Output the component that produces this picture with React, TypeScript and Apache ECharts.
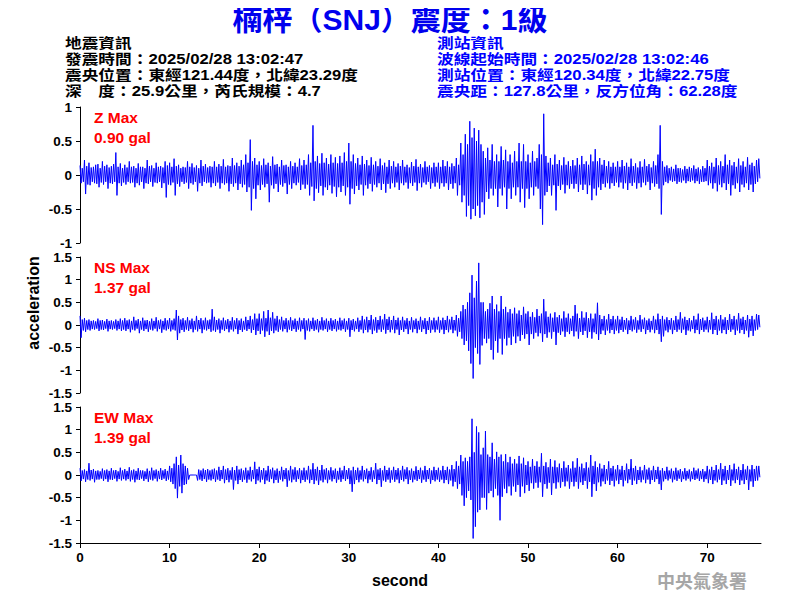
import React, { useEffect, useRef } from "react";
import * as echarts from "echarts";

// ---- Data ----
// Each trace is stored as 0.25 s bins: the bin's peak high value and peak low value (gal)
const STEP = 0.25;

const zHi = [
  0.14, 0.1, 0.22, 0.13, 0.18, 0.11, 0.12, 0.15, 0.16, 0.1, 0.2, 0.13, 0.15, 0.11, 0.13, 0.16, 0.33, 0.12, 0.17, 0.1,
  0.15, 0.11, 0.2, 0.12, 0.13, 0.1, 0.17, 0.12, 0.12, 0.1, 0.22, 0.13, 0.14, 0.1, 0.18, 0.12, 0.13, 0.11, 0.2, 0.14,
  0.18, 0.12, 0.24, 0.13, 0.15, 0.1, 0.12, 0.11, 0.2, 0.12, 0.17, 0.11, 0.14, 0.1, 0.22, 0.13, 0.16, 0.11, 0.13, 0.12,
  0.2, 0.12, 0.16, 0.13, 0.23, 0.12, 0.14, 0.13, 0.25, 0.14, 0.18, 0.13, 0.22, 0.15, 0.3, 0.18, 0.52, 0.2, 0.25, 0.15,
  0.2, 0.14, 0.24, 0.15, 0.18, 0.13, 0.27, 0.15, 0.16, 0.12, 0.22, 0.14, 0.15, 0.12, 0.2, 0.13, 0.18, 0.12, 0.24, 0.14,
  0.22, 0.15, 0.3, 0.18, 0.73, 0.2, 0.28, 0.17, 0.32, 0.18, 0.25, 0.16, 0.3, 0.18, 0.26, 0.17, 0.28, 0.18, 0.33, 0.2,
  0.47, 0.2, 0.3, 0.17, 0.25, 0.15, 0.28, 0.16, 0.22, 0.14, 0.26, 0.15, 0.2, 0.13, 0.24, 0.14, 0.18, 0.12, 0.22, 0.13,
  0.2, 0.12, 0.17, 0.13, 0.22, 0.12, 0.15, 0.11, 0.19, 0.13, 0.23, 0.12, 0.16, 0.11, 0.2, 0.12, 0.14, 0.11, 0.18, 0.12,
  0.18, 0.12, 0.22, 0.13, 0.2, 0.12, 0.17, 0.13, 0.25, 0.15, 0.47, 0.3, 0.6, 0.45, 0.79, 0.55, 0.69, 0.5, 0.66, 0.45,
  0.35, 0.25, 0.4, 0.22, 0.45, 0.2, 0.3, 0.2, 0.42, 0.22, 0.37, 0.2, 0.3, 0.18, 0.35, 0.2, 0.47, 0.2, 0.45, 0.2,
  0.3, 0.18, 0.35, 0.2, 0.25, 0.45, 0.3, 0.9, 0.28, 0.18, 0.25, 0.15, 0.3, 0.16, 0.22, 0.14, 0.26, 0.15, 0.2, 0.13,
  0.22, 0.14, 0.25, 0.15, 0.28, 0.16, 0.2, 0.15, 0.3, 0.2, 0.38, 0.2, 0.25, 0.15, 0.22, 0.13, 0.2, 0.12, 0.18, 0.12,
  0.2, 0.12, 0.22, 0.13, 0.18, 0.12, 0.24, 0.13, 0.17, 0.11, 0.2, 0.12, 0.23, 0.13, 0.16, 0.11, 0.2, 0.14, 0.3, 0.73,
  0.2, 0.12, 0.14, 0.1, 0.12, 0.09, 0.15, 0.1, 0.1, 0.08, 0.13, 0.09, 0.12, 0.1, 0.14, 0.09, 0.11, 0.08, 0.13, 0.1,
  0.22, 0.13, 0.18, 0.12, 0.25, 0.14, 0.2, 0.13, 0.3, 0.15, 0.22, 0.14, 0.19, 0.12, 0.24, 0.14, 0.2, 0.12, 0.26, 0.15, 0.18, 0.13, 0.22, 0.24,
];
const zLo = [
  -0.12, -0.1, -0.28, -0.14, -0.15, -0.1, -0.12, -0.13, -0.18, -0.11, -0.14, -0.1, -0.2, -0.12, -0.13, -0.1, -0.3, -0.12, -0.16, -0.11,
  -0.14, -0.1, -0.12, -0.11, -0.18, -0.12, -0.15, -0.1, -0.2, -0.12, -0.13, -0.1, -0.17, -0.11, -0.12, -0.1, -0.19, -0.12, -0.33, -0.14,
  -0.15, -0.11, -0.3, -0.13, -0.17, -0.1, -0.13, -0.11, -0.2, -0.12, -0.14, -0.1, -0.24, -0.12, -0.16, -0.1, -0.12, -0.11, -0.18, -0.12,
  -0.16, -0.11, -0.2, -0.12, -0.14, -0.12, -0.24, -0.13, -0.17, -0.12, -0.22, -0.13, -0.18, -0.14, -0.25, -0.18, -0.52, -0.2, -0.35, -0.15,
  -0.22, -0.14, -0.18, -0.13, -0.4, -0.15, -0.2, -0.13, -0.25, -0.14, -0.17, -0.12, -0.28, -0.14, -0.2, -0.12, -0.15, -0.11, -0.22, -0.14,
  -0.2, -0.14, -0.3, -0.17, -0.38, -0.2, -0.26, -0.16, -0.3, -0.18, -0.22, -0.15, -0.27, -0.17, -0.32, -0.18, -0.25, -0.16, -0.3, -0.18,
  -0.43, -0.2, -0.28, -0.16, -0.22, -0.14, -0.3, -0.15, -0.2, -0.13, -0.24, -0.14, -0.18, -0.12, -0.22, -0.13, -0.26, -0.13, -0.2, -0.12,
  -0.18, -0.11, -0.22, -0.12, -0.15, -0.11, -0.2, -0.12, -0.16, -0.11, -0.23, -0.12, -0.18, -0.11, -0.14, -0.1, -0.2, -0.12, -0.17, -0.11,
  -0.2, -0.12, -0.17, -0.12, -0.22, -0.13, -0.2, -0.12, -0.3, -0.15, -0.4, -0.3, -0.61, -0.45, -0.65, -0.5, -0.6, -0.45, -0.63, -0.4,
  -0.58, -0.25, -0.35, -0.2, -0.3, -0.2, -0.47, -0.2, -0.3, -0.18, -0.5, -0.2, -0.35, -0.18, -0.3, -0.18, -0.4, -0.2, -0.48, -0.2,
  -0.35, -0.18, -0.3, -0.17, -0.2, -0.5, -0.73, -0.3, -0.25, -0.16, -0.3, -0.15, -0.52, -0.16, -0.22, -0.14, -0.27, -0.15, -0.2, -0.13,
  -0.2, -0.13, -0.25, -0.14, -0.22, -0.14, -0.28, -0.15, -0.37, -0.2, -0.3, -0.18, -0.22, -0.13, -0.18, -0.12, -0.2, -0.12, -0.16, -0.11,
  -0.18, -0.11, -0.2, -0.12, -0.22, -0.12, -0.16, -0.11, -0.2, -0.12, -0.18, -0.11, -0.15, -0.1, -0.22, -0.12, -0.17, -0.13, -0.2, -0.58,
  -0.15, -0.1, -0.12, -0.08, -0.1, -0.09, -0.13, -0.1, -0.11, -0.08, -0.12, -0.09, -0.1, -0.08, -0.12, -0.09, -0.13, -0.1, -0.1, -0.09,
  -0.15, -0.12, -0.2, -0.12, -0.24, -0.14, -0.18, -0.12, -0.22, -0.13, -0.3, -0.15, -0.2, -0.12, -0.25, -0.14, -0.18, -0.12, -0.22, -0.14, -0.25, -0.13, -0.1, -0.05,
];

const nsHi = [
  0.2, 0.12, 0.15, 0.1, 0.12, 0.09, 0.1, 0.08, 0.14, 0.1, 0.11, 0.08, 0.13, 0.09, 0.1, 0.08, 0.12, 0.09, 0.14, 0.1,
  0.15, 0.1, 0.12, 0.09, 0.18, 0.1, 0.13, 0.09, 0.16, 0.1, 0.11, 0.08, 0.14, 0.09, 0.17, 0.1, 0.12, 0.09, 0.15, 0.1,
  0.15, 0.1, 0.14, 0.33, 0.2, 0.12, 0.15, 0.1, 0.17, 0.1, 0.14, 0.09, 0.2, 0.11, 0.15, 0.1, 0.16, 0.1, 0.12, 0.35,
  0.18, 0.11, 0.14, 0.1, 0.16, 0.1, 0.13, 0.09, 0.17, 0.1, 0.15, 0.1, 0.14, 0.09, 0.18, 0.11, 0.2, 0.12, 0.25, 0.14,
  0.25, 0.14, 0.3, 0.15, 0.33, 0.16, 0.28, 0.14, 0.2, 0.12, 0.18, 0.1, 0.15, 0.1, 0.17, 0.1, 0.14, 0.09, 0.16, 0.1,
  0.15, 0.1, 0.14, 0.09, 0.16, 0.1, 0.13, 0.09, 0.17, 0.1, 0.14, 0.09, 0.15, 0.1, 0.13, 0.09, 0.16, 0.1, 0.14, 0.09,
  0.15, 0.1, 0.13, 0.09, 0.16, 0.1, 0.2, 0.12, 0.18, 0.11, 0.22, 0.12, 0.17, 0.11, 0.2, 0.12, 0.24, 0.13, 0.18, 0.11,
  0.2, 0.11, 0.16, 0.1, 0.18, 0.1, 0.15, 0.09, 0.17, 0.1, 0.14, 0.09, 0.18, 0.1, 0.15, 0.09, 0.17, 0.1, 0.16, 0.1,
  0.18, 0.1, 0.16, 0.11, 0.2, 0.12, 0.18, 0.11, 0.22, 0.15, 0.3, 0.44, 0.35, 0.5, 0.71, 1.1, 0.6, 0.97, 1.37, 0.5,
  0.5, 0.3, 0.35, 0.48, 0.64, 0.35, 0.45, 0.3, 0.64, 0.35, 0.4, 0.28, 0.35, 0.25, 0.38, 0.25, 0.32, 0.22, 0.4, 0.25,
  0.3, 0.18, 0.28, 0.17, 0.35, 0.2, 0.25, 0.57, 0.3, 0.18, 0.25, 0.16, 0.28, 0.17, 0.22, 0.14, 0.3, 0.16, 0.25, 0.14,
  0.2, 0.44, 0.25, 0.15, 0.3, 0.16, 0.28, 0.15, 0.25, 0.14, 0.25, 0.49, 0.22, 0.13, 0.2, 0.12, 0.24, 0.13, 0.2, 0.12,
  0.2, 0.12, 0.18, 0.11, 0.15, 0.1, 0.2, 0.12, 0.17, 0.1, 0.22, 0.12, 0.16, 0.1, 0.14, 0.09, 0.2, 0.12, 0.25, 0.13,
  0.2, 0.12, 0.17, 0.11, 0.15, 0.1, 0.2, 0.12, 0.28, 0.14, 0.18, 0.11, 0.15, 0.1, 0.2, 0.12, 0.25, 0.13, 0.16, 0.1,
  0.18, 0.11, 0.27, 0.13, 0.2, 0.12, 0.22, 0.12, 0.17, 0.11, 0.24, 0.13, 0.2, 0.12, 0.26, 0.14, 0.18, 0.11, 0.22, 0.13, 0.2, 0.12, 0.24, 0.22,
];
const nsLo = [
  -0.28, -0.12, -0.15, -0.1, -0.12, -0.09, -0.1, -0.08, -0.13, -0.1, -0.11, -0.08, -0.14, -0.09, -0.1, -0.08, -0.12, -0.09, -0.13, -0.1,
  -0.13, -0.09, -0.16, -0.1, -0.12, -0.08, -0.18, -0.1, -0.13, -0.09, -0.15, -0.1, -0.12, -0.08, -0.14, -0.09, -0.17, -0.1, -0.12, -0.09,
  -0.14, -0.1, -0.12, -0.33, -0.18, -0.11, -0.15, -0.1, -0.13, -0.09, -0.16, -0.1, -0.14, -0.09, -0.18, -0.1, -0.12, -0.09, -0.15, -0.12,
  -0.15, -0.1, -0.18, -0.1, -0.13, -0.09, -0.16, -0.1, -0.14, -0.09, -0.2, -0.11, -0.15, -0.1, -0.13, -0.09, -0.17, -0.11, -0.22, -0.13,
  -0.2, -0.12, -0.26, -0.14, -0.22, -0.13, -0.18, -0.12, -0.15, -0.1, -0.14, -0.09, -0.16, -0.1, -0.13, -0.09, -0.15, -0.1, -0.14, -0.09,
  -0.32, -0.12, -0.14, -0.09, -0.13, -0.1, -0.16, -0.1, -0.12, -0.09, -0.15, -0.1, -0.13, -0.09, -0.14, -0.1, -0.12, -0.09, -0.15, -0.1,
  -0.26, -0.11, -0.14, -0.09, -0.15, -0.1, -0.18, -0.11, -0.16, -0.1, -0.2, -0.12, -0.17, -0.1, -0.15, -0.1, -0.19, -0.11, -0.16, -0.1,
  -0.18, -0.1, -0.22, -0.11, -0.15, -0.09, -0.2, -0.1, -0.16, -0.09, -0.18, -0.1, -0.15, -0.09, -0.2, -0.11, -0.17, -0.1, -0.16, -0.1,
  -0.17, -0.1, -0.2, -0.11, -0.16, -0.1, -0.18, -0.12, -0.25, -0.15, -0.3, -0.44, -0.35, -0.57, -0.85, -1.18, -0.5, -0.63, -0.87, -0.45,
  -0.3, -0.4, -0.3, -0.55, -0.76, -0.35, -0.61, -0.3, -0.65, -0.3, -0.45, -0.28, -0.44, -0.25, -0.4, -0.25, -0.35, -0.22, -0.3, -0.2,
  -0.44, -0.2, -0.3, -0.17, -0.25, -0.18, -0.37, -0.2, -0.28, -0.16, -0.3, -0.15, -0.44, -0.17, -0.22, -0.14, -0.26, -0.15, -0.2, -0.13,
  -0.25, -0.14, -0.3, -0.15, -0.22, -0.13, -0.28, -0.15, -0.3, -0.16, -0.2, -0.33, -0.2, -0.12, -0.22, -0.12, -0.18, -0.11, -0.2, -0.12,
  -0.18, -0.11, -0.15, -0.1, -0.2, -0.11, -0.14, -0.1, -0.17, -0.1, -0.15, -0.09, -0.2, -0.11, -0.16, -0.1, -0.18, -0.11, -0.2, -0.37,
  -0.25, -0.12, -0.16, -0.1, -0.2, -0.11, -0.15, -0.1, -0.17, -0.1, -0.22, -0.12, -0.14, -0.09, -0.18, -0.11, -0.2, -0.11, -0.15, -0.1,
  -0.16, -0.1, -0.2, -0.11, -0.22, -0.12, -0.18, -0.11, -0.2, -0.11, -0.15, -0.1, -0.22, -0.12, -0.18, -0.11, -0.2, -0.12, -0.27, -0.13, -0.24, -0.12, -0.1, -0.05,
];

const ewHi = [
  0.15, 0.1, 0.12, 0.09, 0.26, 0.11, 0.13, 0.09, 0.1, 0.08, 0.14, 0.1, 0.12, 0.09, 0.15, 0.1, 0.11, 0.08, 0.16, 0.1,
  0.13, 0.09, 0.17, 0.1, 0.12, 0.09, 0.15, 0.1, 0.1, 0.08, 0.14, 0.09, 0.16, 0.1, 0.12, 0.09, 0.15, 0.1, 0.13, 0.09,
  0.2, 0.15, 0.25, 0.4, 0.22, 0.44, 0.25, 0.2, 0.15, 0, 0, 0, 0, 0.12, 0.1, 0.14, 0.11, 0.13, 0.1, 0.12,
  0.14, 0.1, 0.18, 0.11, 0.2, 0.12, 0.15, 0.1, 0.17, 0.11, 0.2, 0.12, 0.14, 0.1, 0.16, 0.1, 0.18, 0.11, 0.29, 0.13,
  0.18, 0.11, 0.15, 0.1, 0.2, 0.12, 0.16, 0.1, 0.14, 0.09, 0.18, 0.11, 0.15, 0.1, 0.2, 0.12, 0.17, 0.1, 0.15, 0.1,
  0.16, 0.1, 0.2, 0.12, 0.26, 0.13, 0.18, 0.11, 0.22, 0.12, 0.15, 0.1, 0.17, 0.1, 0.14, 0.09, 0.16, 0.1, 0.2, 0.11,
  0.15, 0.1, 0.18, 0.11, 0.16, 0.1, 0.2, 0.11, 0.14, 0.09, 0.17, 0.1, 0.26, 0.12, 0.15, 0.1, 0.2, 0.11, 0.16, 0.1,
  0.18, 0.11, 0.15, 0.1, 0.2, 0.12, 0.17, 0.1, 0.14, 0.09, 0.19, 0.11, 0.16, 0.1, 0.2, 0.11, 0.15, 0.1, 0.18, 0.11,
  0.16, 0.1, 0.2, 0.11, 0.18, 0.12, 0.22, 0.13, 0.3, 0.2, 0.44, 0.3, 0.38, 0.3, 0.4, 1.24, 0.5, 1.07, 0.94, 0.45,
  0.6, 0.97, 0.45, 0.4, 0.71, 0.35, 0.51, 0.4, 0.45, 0.3, 0.46, 0.28, 0.4, 0.25, 0.35, 0.25, 0.42, 0.25, 0.38, 0.22,
  0.3, 0.18, 0.35, 0.2, 0.3, 0.18, 0.48, 0.2, 0.28, 0.17, 0.35, 0.18, 0.32, 0.17, 0.25, 0.15, 0.3, 0.16, 0.22, 0.14,
  0.3, 0.16, 0.37, 0.18, 0.25, 0.15, 0.28, 0.16, 0.44, 0.2, 0.3, 0.17, 0.25, 0.14, 0.22, 0.13, 0.3, 0.15, 0.2, 0.12,
  0.22, 0.12, 0.2, 0.11, 0.25, 0.13, 0.35, 0.15, 0.2, 0.11, 0.18, 0.1, 0.22, 0.12, 0.16, 0.1, 0.2, 0.11, 0.18, 0.1,
  0.15, 0.09, 0.18, 0.1, 0.14, 0.09, 0.16, 0.1, 0.13, 0.08, 0.15, 0.09, 0.12, 0.08, 0.16, 0.1, 0.14, 0.09, 0.13, 0.08,
  0.2, 0.12, 0.18, 0.11, 0.22, 0.12, 0.26, 0.13, 0.2, 0.11, 0.22, 0.12, 0.25, 0.13, 0.18, 0.11, 0.24, 0.12, 0.2, 0.12, 0.22, 0.13, 0.2, 0.2,
];
const ewLo = [
  -0.13, -0.09, -0.15, -0.1, -0.12, -0.09, -0.16, -0.1, -0.1, -0.08, -0.13, -0.09, -0.15, -0.1, -0.11, -0.08, -0.14, -0.09, -0.12, -0.09,
  -0.12, -0.09, -0.14, -0.1, -0.16, -0.1, -0.11, -0.08, -0.13, -0.09, -0.15, -0.1, -0.12, -0.08, -0.14, -0.09, -0.11, -0.08, -0.13, -0.1,
  -0.15, -0.2, -0.3, -0.51, -0.25, -0.4, -0.22, -0.2, -0.1, 0, 0, 0, -0.12, -0.1, -0.13, -0.09, -0.15, -0.1, -0.12, -0.09,
  -0.15, -0.1, -0.13, -0.09, -0.18, -0.11, -0.16, -0.1, -0.32, -0.12, -0.2, -0.11, -0.15, -0.1, -0.17, -0.1, -0.14, -0.09, -0.2, -0.12,
  -0.16, -0.1, -0.2, -0.12, -0.15, -0.09, -0.18, -0.11, -0.17, -0.1, -0.14, -0.09, -0.26, -0.12, -0.16, -0.1, -0.15, -0.09, -0.18, -0.11,
  -0.15, -0.1, -0.18, -0.11, -0.2, -0.12, -0.22, -0.12, -0.16, -0.1, -0.18, -0.1, -0.14, -0.09, -0.17, -0.1, -0.15, -0.09, -0.13, -0.09,
  -0.2, -0.37, -0.2, -0.11, -0.16, -0.1, -0.14, -0.09, -0.18, -0.1, -0.15, -0.09, -0.2, -0.11, -0.26, -0.12, -0.15, -0.1, -0.17, -0.1,
  -0.15, -0.1, -0.18, -0.11, -0.14, -0.09, -0.2, -0.11, -0.16, -0.1, -0.13, -0.09, -0.17, -0.1, -0.15, -0.09, -0.19, -0.11, -0.14, -0.1,
  -0.15, -0.1, -0.18, -0.11, -0.2, -0.12, -0.25, -0.15, -0.3, -0.2, -0.45, -0.68, -0.5, -0.35, -0.55, -1.4, -1.14, -0.82, -0.77, -0.5,
  -0.5, -0.76, -0.4, -0.35, -0.49, -0.3, -0.45, -1.0, -0.48, -0.3, -0.4, -0.25, -0.45, -0.25, -0.37, -0.22, -0.48, -0.25, -0.4, -0.22,
  -0.35, -0.18, -0.3, -0.17, -0.28, -0.16, -0.48, -0.2, -0.3, -0.17, -0.44, -0.18, -0.3, -0.16, -0.28, -0.15, -0.25, -0.14, -0.3, -0.15,
  -0.25, -0.15, -0.3, -0.16, -0.22, -0.13, -0.3, -0.15, -0.48, -0.2, -0.35, -0.16, -0.25, -0.14, -0.2, -0.12, -0.22, -0.13, -0.25, -0.12,
  -0.2, -0.11, -0.25, -0.12, -0.18, -0.1, -0.22, -0.12, -0.2, -0.11, -0.16, -0.1, -0.18, -0.1, -0.2, -0.11, -0.15, -0.09, -0.2, -0.33,
  -0.14, -0.09, -0.12, -0.08, -0.16, -0.1, -0.13, -0.08, -0.15, -0.09, -0.12, -0.08, -0.14, -0.09, -0.11, -0.08, -0.13, -0.09, -0.15, -0.09,
  -0.18, -0.11, -0.2, -0.12, -0.16, -0.1, -0.22, -0.12, -0.2, -0.11, -0.24, -0.12, -0.18, -0.11, -0.22, -0.12, -0.2, -0.11, -0.33, -0.14, -0.26, -0.13, -0.12, -0.05,
];

const xTicks = [0, 10, 20, 30, 40, 50, 60, 70];
const X_MAX = 76;

const titleText = "楠梓（SNJ）震度：1級";
const quakeInfo = [
  "地震資訊",
  "發震時間：2025/02/28 13:02:47",
  "震央位置：東經121.44度，北緯23.29度",
  "深　度：25.9公里，芮氏規模：4.7",
];
const stationInfo = [
  "測站資訊",
  "波線起始時間：2025/02/28 13:02:46",
  "測站位置：東經120.34度，北緯22.75度",
  "震央距：127.8公里，反方位角：62.28度",
];
const channelLabels = [
  ["Z Max", "0.90 gal"],
  ["NS Max", "1.37 gal"],
  ["EW Max", "1.39 gal"],
];

function toPoints(hi: number[], lo: number[]) {
  const pts: number[][] = [];
  hi.forEach((h, i) => {
    pts.push([i * STEP, h]);
    pts.push([i * STEP + STEP / 2, lo[i]]);
  });
  return pts;
}

const LATIN = '"Liberation Sans", Arial, sans-serif';
const MIXED = '"Liberation Sans", "Noto Sans CJK TC", sans-serif';

export default function App() {
  const ref = useRef<HTMLDivElement>(null);

  useEffect(() => {
    if (!ref.current) return;
    const chart = echarts.init(ref.current, undefined, { renderer: "svg" });

    const gridTops = [107, 257, 407];
    const grids = gridTops.map((top) => ({ left: 80, top, width: 681, height: 136 }));

    const xAxes = gridTops.map((_, k) => ({
      type: "value",
      gridIndex: k,
      min: 0,
      max: X_MAX,
      interval: 10,
      show: k === 2,
      axisLine: { show: true, onZero: false, lineStyle: { color: "#000", width: 1 } },
      axisTick: { show: true, length: 5, lineStyle: { color: "#000" }, customValues: xTicks },
      axisLabel: {
        show: true,
        customValues: xTicks,
        fontFamily: LATIN,
        fontWeight: "bold",
        fontSize: 13.5,
        color: "#000",
        margin: 7,
      },
      splitLine: { show: false },
    }));

    const yRanges = [1, 1.5, 1.5];
    const yAxes = yRanges.map((r, k) => ({
      type: "value",
      gridIndex: k,
      min: -r,
      max: r,
      interval: 0.5,
      axisLine: { show: true, onZero: false, lineStyle: { color: "#000", width: 1 } },
      axisTick: { show: true, length: 4, lineStyle: { color: "#000" } },
      axisLabel: {
        fontFamily: LATIN,
        fontWeight: "bold",
        fontSize: 13.5,
        color: "#000",
        margin: 8,
      },
      splitLine: { show: false },
    }));

    const traces = [toPoints(zHi, zLo), toPoints(nsHi, nsLo), toPoints(ewHi, ewLo)];
    const series = traces.map((d, k) => ({
      type: "line",
      xAxisIndex: k,
      yAxisIndex: k,
      data: d,
      showSymbol: false,
      symbol: "none",
      lineStyle: { color: "#0000ff", width: 1 },
      clip: true,
    }));

    const graphics: any[] = [];
    graphics.push({
      type: "text",
      x: 390,
      y: 19,
      style: {
        text: titleText,
        font: `bold 30px ${MIXED}`,
        fill: "#0000ee",
        textAlign: "center",
        textVerticalAlign: "middle",
      },
    });
    quakeInfo.forEach((t, i) => {
      graphics.push({
        type: "text",
        x: 65,
        y: 43 + i * 16,
        scaleY: 0.85,
        style: { text: t, font: `bold 16.7px ${MIXED}`, fill: "#000", textVerticalAlign: "middle" },
      });
    });
    stationInfo.forEach((t, i) => {
      graphics.push({
        type: "text",
        x: 437,
        y: 43 + i * 16,
        scaleY: 0.85,
        style: { text: t, font: `bold 16.7px ${MIXED}`, fill: "#0000ff", textVerticalAlign: "middle" },
      });
    });
    channelLabels.forEach((pair, k) => {
      pair.forEach((t, j) => {
        graphics.push({
          type: "text",
          x: 94,
          y: gridTops[k] + 10.5 + j * 19.5,
          style: { text: t, font: `bold 15.5px ${LATIN}`, fill: "#ff0000", textVerticalAlign: "middle" },
        });
      });
    });
    graphics.push({
      type: "text",
      x: 33,
      y: 303,
      rotation: Math.PI / 2,
      style: {
        text: "acceleration",
        font: `bold 16px ${LATIN}`,
        fill: "#000",
        textAlign: "center",
        textVerticalAlign: "middle",
      },
    });
    graphics.push({
      type: "text",
      x: 400,
      y: 580,
      style: {
        text: "second",
        font: `bold 16px ${LATIN}`,
        fill: "#000",
        textAlign: "center",
        textVerticalAlign: "middle",
      },
    });
    graphics.push({
      type: "text",
      x: 702,
      y: 580,
      style: {
        text: "中央氣象署",
        font: `bold 18px "Noto Sans CJK TC", sans-serif`,
        fill: "#a6a6a6",
        textAlign: "center",
        textVerticalAlign: "middle",
      },
    });

    chart.setOption({
      animation: false,
      backgroundColor: "#fff",
      grid: grids,
      xAxis: xAxes,
      yAxis: yAxes,
      series,
      graphic: graphics,
    });

    return () => chart.dispose();
  }, []);

  return <div ref={ref} style={{ width: 800, height: 600, margin: -8 }} />;
}
